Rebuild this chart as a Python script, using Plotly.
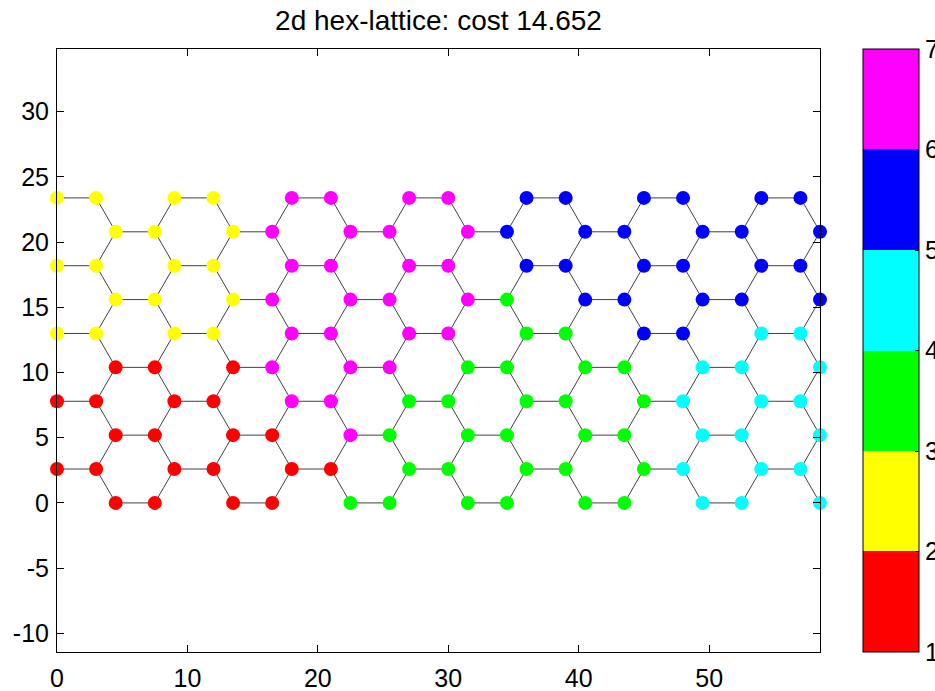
import plotly.graph_objects as go

# ---------------- data ----------------
ROW_Y = [0.0, 2.598, 5.196, 7.794, 10.392, 12.990, 15.588, 18.187, 20.785, 23.383]
X_EVEN = [4.5, 7.5, 13.5, 16.5, 22.5, 25.5, 31.5, 34.5, 40.5, 43.5, 49.5, 52.5, 58.5]
X_ODD = [0, 3, 9, 12, 18, 21, 27, 30, 36, 39, 45, 48, 54, 57]

CLUSTERS = [
    [1, 1, 1, 1, 3, 3, 3, 3, 3, 3, 4, 4, 4],
    [1, 1, 1, 1, 1, 1, 3, 3, 3, 3, 3, 4, 4, 4],
    [1, 1, 1, 1, 6, 3, 3, 3, 3, 3, 4, 4, 4],
    [1, 1, 1, 1, 6, 6, 3, 3, 3, 3, 3, 4, 4, 4],
    [1, 1, 1, 6, 6, 6, 3, 3, 3, 3, 4, 4, 4],
    [2, 2, 2, 2, 6, 6, 6, 6, 3, 3, 5, 5, 4, 4],
    [2, 2, 2, 6, 6, 6, 6, 3, 5, 5, 5, 5, 5],
    [2, 2, 2, 2, 6, 6, 6, 6, 5, 5, 5, 5, 5, 5],
    [2, 2, 2, 6, 6, 6, 6, 5, 5, 5, 5, 5, 5],
    [2, 2, 2, 2, 6, 6, 6, 6, 5, 5, 5, 5, 5, 5],
]
BOND = 3.0
COST = 14.652

X_TICKS = [0, 10, 20, 30, 40, 50]
X_TICKTEXT = ["0", "10", "20", "30", "40", "50"]
Y_TICKS = [-10, -5, 0, 5, 10, 15, 20, 25, 30]
Y_TICKTEXT = ["-10", "-5", "0", "5", "10", "15", "20", "25", "30"]
CB_TICKS = [1, 2, 3, 4, 5, 6, 7]
CB_TICKTEXT = ["1", "2", "3", "4", "5", "6", "7"]
PALETTE = ["#ff0000", "#ffff00", "#00ff00", "#00ffff", "#0000ff", "#ff00ff"]

# ---------------- build nodes ----------------
xs, ys, cs = [], [], []
for k, y in enumerate(ROW_Y):
    row_x = X_EVEN if k % 2 == 0 else X_ODD
    for x, c in zip(row_x, CLUSTERS[k]):
        xs.append(x)
        ys.append(y)
        cs.append(c)

# edges: nodes at bond distance
ex, ey = [], []
n = len(xs)
for i in range(n):
    for j in range(i + 1, n):
        d2 = (xs[i] - xs[j]) ** 2 + (ys[i] - ys[j]) ** 2
        if abs(d2 - BOND ** 2) < 0.05:
            ex += [xs[i], xs[j], None]
            ey += [ys[i], ys[j], None]

ncol = len(PALETTE)
cscale = []
for i, col in enumerate(PALETTE):
    cscale.append([i / ncol, col])
    cscale.append([(i + 1) / ncol, col])

FONT = "Liberation Sans, Arial, Helvetica, sans-serif"
TICK_SIZE = 25

fig = go.Figure()
fig.add_trace(go.Scatter(
    x=ex, y=ey, mode="lines",
    line=dict(color="#404040", width=1),
    hoverinfo="skip", showlegend=False, cliponaxis=False,
))

W, H = 935, 691
L, R, T, B = 57, 115, 49, 39
plot_w = W - L - R

fig.add_trace(go.Scatter(
    x=xs, y=ys, mode="markers",
    marker=dict(
        size=14,
        color=[c + 0.5 for c in cs],
        cmin=1, cmax=7,
        colorscale=cscale,
        line=dict(width=0),
        showscale=True,
        colorbar=dict(
            x=(863 - L) / plot_w, xanchor="left", xpad=0,
            y=0.5, yanchor="middle", ypad=0,
            lenmode="pixels", len=603,
            thicknessmode="pixels", thickness=56,
            outlinewidth=1, outlinecolor="black",
            tickvals=CB_TICKS, ticktext=CB_TICKTEXT,
            ticks="inside", ticklen=4, tickcolor="black",
            tickfont=dict(family=FONT, size=TICK_SIZE, color="black"),
        ),
    ),
    showlegend=False, cliponaxis=False,
))

axis_common = dict(
    showgrid=False, zeroline=False,
    showline=True, linecolor="black", linewidth=1,
    mirror="allticks", ticks="inside", ticklen=7, tickcolor="black",
    tickfont=dict(family=FONT, size=TICK_SIZE, color="black"),
)
fig.update_xaxes(range=[0, 58.5], tickvals=X_TICKS, ticktext=X_TICKTEXT,
                 ticklabelstandoff=4, **axis_common)
fig.update_yaxes(range=[-11.43, 34.8], tickvals=Y_TICKS, ticktext=Y_TICKTEXT,
                 ticklabelstandoff=2, **axis_common)

fig.update_layout(
    width=W, height=H,
    margin=dict(l=L, r=R, t=T, b=B, pad=0, autoexpand=False),
    paper_bgcolor="white", plot_bgcolor="white",
    title=dict(
        text=f"2d hex-lattice: cost {COST}",
        x=(L + plot_w / 2) / W, xanchor="center",
        y=1 - 20 / H, yanchor="middle", yref="container",
        font=dict(family=FONT, size=28, color="black"),
    ),
)

fig.write_html("out.html")
